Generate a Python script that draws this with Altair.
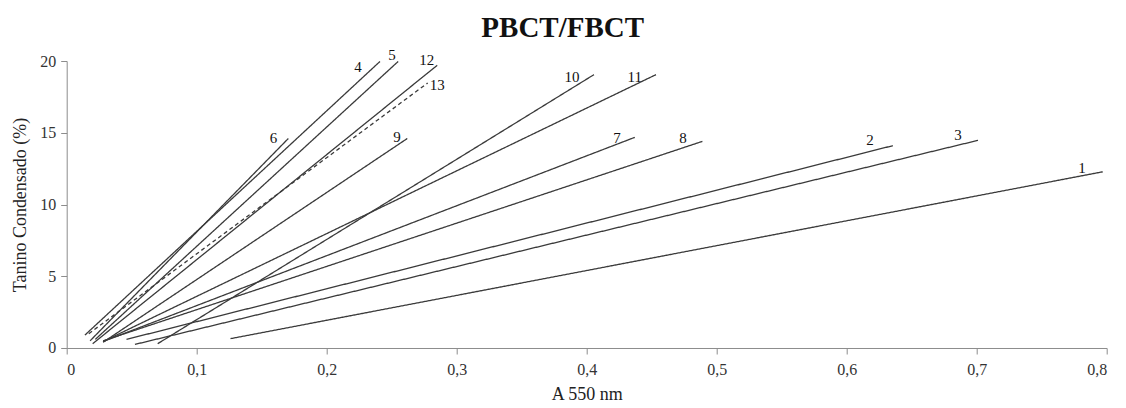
import altair as alt
import pandas as pd

# Regression lines (start and end points)
series = ["1", "2", "3", "4", "5", "6", "7", "8", "9", "10", "11", "12", "13"]
x_start = [0.126, 0.046, 0.0525, 0.014, 0.022, 0.018, 0.028, 0.028, 0.028, 0.070, 0.028, 0.020, 0.017]
y_start = [0.65, 0.60, 0.25, 0.90, 0.60, 0.50, 0.45, 0.50, 0.40, 0.30, 0.45, 0.30, 1.00]
x_end = [0.797, 0.6355, 0.701, 0.241, 0.255, 0.1705, 0.437, 0.489, 0.262, 0.4056, 0.4533, 0.285, 0.2777]
y_end = [12.28, 14.10, 14.47, 19.97, 19.97, 14.60, 14.68, 14.40, 14.60, 19.05, 19.05, 19.70, 18.47]
dashed = [False] * 12 + [True]

# Label positions
label_x = [0.781, 0.618, 0.6856, 0.224, 0.2502, 0.159, 0.4233, 0.474, 0.254, 0.3887, 0.437, 0.277, 0.285]
label_y = [12.56, 14.50, 14.87, 19.60, 20.44, 14.65, 14.65, 14.65, 14.72, 18.90, 18.90, 20.09, 18.35]

rows = []
for i, s in enumerate(series):
    style = "dashed" if dashed[i] else "solid"
    rows.append({"serie": s, "x": x_start[i], "y": y_start[i], "style": style})
    rows.append({"serie": s, "x": x_end[i], "y": y_end[i], "style": style})
lines_df = pd.DataFrame(rows)
labels_df = pd.DataFrame({"serie": series, "x": label_x, "y": label_y})

FONT = "Liberation Serif"

xscale = alt.Scale(domain=[0, 0.8], nice=False, zero=True)
yscale = alt.Scale(domain=[0, 20], nice=False)

xaxis = alt.Axis(
    values=[0, 0.1, 0.2, 0.3, 0.4, 0.5, 0.6, 0.7, 0.8],
    labelExpr="datum.value == 0 ? '0' : replace(format(datum.value, '.1f'), '.', ',')",
    grid=False, title="A 550 nm", titleFont=FONT, titleFontSize=18,
    titleFontWeight="normal", titleColor="#222", titlePadding=8,
    labelFont=FONT, labelFontSize=16, labelColor="#333", labelPadding=8,
    domainColor="#8c8c8c", tickColor="#8c8c8c", tickSize=6,
)
yaxis = alt.Axis(
    values=[0, 5, 10, 15, 20],
    grid=False, title="Tanino Condensado (%)", titleFont=FONT, titleFontSize=18,
    titleFontWeight="normal", titleColor="#222", titlePadding=10,
    labelFont=FONT, labelFontSize=16, labelColor="#333", labelPadding=5,
    domainColor="#8c8c8c", tickColor="#8c8c8c", tickSize=6,
)

lines = alt.Chart(lines_df).mark_line(strokeWidth=1.3, color="#3a3a3a").encode(
    x=alt.X("x:Q", scale=xscale, axis=xaxis),
    y=alt.Y("y:Q", scale=yscale, axis=yaxis),
    detail="serie:N",
    strokeDash=alt.StrokeDash(
        "style:N",
        scale=alt.Scale(domain=["solid", "dashed"], range=[[1, 0], [4, 3]]),
        legend=None,
    ),
)

labels = alt.Chart(labels_df).mark_text(
    font=FONT, fontSize=15, color="#111", baseline="middle", align="center"
).encode(
    x=alt.X("x:Q", scale=xscale),
    y=alt.Y("y:Q", scale=yscale),
    text="serie:N",
)

chart = (lines + labels).properties(
    width=1040,
    height=287,
    title=alt.TitleParams(
        "PBCT/FBCT", font=FONT, fontSize=29, fontWeight="bold", color="#111",
        anchor="middle", dx=-24, offset=5,
    ),
    autosize=alt.AutoSizeParams(type="none"),
    padding={"left": 58.7, "top": 53, "right": 5, "bottom": 62},
).configure_view(stroke=None)

chart.save("out.html", embed_options={"renderer": "svg", "actions": False})
